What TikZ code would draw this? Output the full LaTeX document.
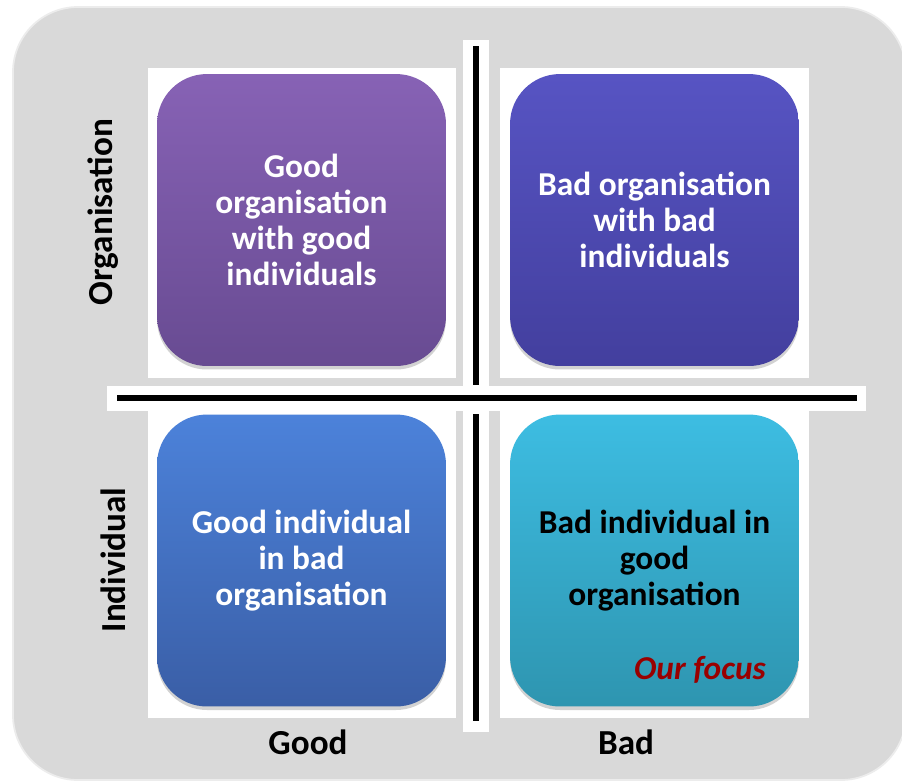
\documentclass[tikz,border=0pt]{standalone}
\usepackage{fontspec}
\setmainfont{Carlito}
\usetikzlibrary{shadows}
\definecolor{bggray}{HTML}{D9D9D9}
\definecolor{orgtop}{HTML}{8762B5}
\definecolor{orgbot}{HTML}{684B92}
\definecolor{badtop}{HTML}{5754C3}
\definecolor{badbot}{HTML}{433F9E}
\definecolor{indtop}{HTML}{4C82DA}
\definecolor{indbot}{HTML}{3A5EA6}
\definecolor{focustop}{HTML}{3DBDE2}
\definecolor{focusbot}{HTML}{2E95B0}
\definecolor{focusred}{HTML}{990000}
\def\frame{(13,7) rectangle (906,780)}

\begin{document}
\begin{tikzpicture}[x=0.02cm, y=-0.02cm,
  quad/.style={rounded corners=1cm, minimum width=5.78cm, minimum height=5.84cm,
    align=center, text=white, font=\fontsize{19}{20.5}\selectfont\bfseries,
    drop shadow={shadow xshift=0pt, shadow yshift=-2pt, opacity=0.35}},
  axislabel/.style={font=\fontsize{20}{22}\selectfont\bfseries},
  divider/.style={line width=3.5pt}]
	\useasboundingbox (0,0) rectangle (902,782);
	\fill[white] (0,0) rectangle (902,782);
	\draw[white!85!gray, line width=1pt, fill=bggray, rounded corners=1.3cm] \frame;

	% white panels
	\fill[white] (148,68) rectangle (456,378);
	\fill[white] (500,68) rectangle (809,378);
	\fill[white] (148,410) rectangle (456,718);
	\fill[white] (500,410) rectangle (809,718);
	\fill[white] (463,40) rectangle (489,390);
	\fill[white] (463,410) rectangle (489,732);
	\fill[white] (107,386) rectangle (866,411);

	% dividers
	\draw[divider] (476,46) -- (476,385);
	\draw[divider] (476,414) -- (476,721);
	\draw[divider] (117,398) -- (857,398);

	\node[quad, top color=orgtop, bottom color=orgbot] (goodgood) at (301.5,220)
		{Good\\organisation\\with good\\individuals};
	\node[quad, top color=badtop, bottom color=badbot] (badbad) at (654.5,220)
		{Bad organisation\\with bad\\individuals};
	\node[quad, top color=indtop, bottom color=indbot] (goodbad) at (301.5,560.5)
		{Good individual\\in bad\\organisation};
	\node[quad, top color=focustop, bottom color=focusbot, text=black] (badgood) at (654.5,560.5)
		{Bad individual in\\good\\organisation};
	\node[text=focusred, font=\fontsize{19}{20.5}\selectfont\bfseries\itshape] (focus) at (700,670) {Our focus};

	\node[axislabel, rotate=90] (orglabel) at (103,212) {Organisation};
	\node[axislabel, rotate=90] (indlabel) at (113,560) {Individual};
	\node[axislabel] (goodlabel) at (308,742) {Good};
	\node[axislabel] (badlabel) at (626,742) {Bad};
\end{tikzpicture}
\end{document}
